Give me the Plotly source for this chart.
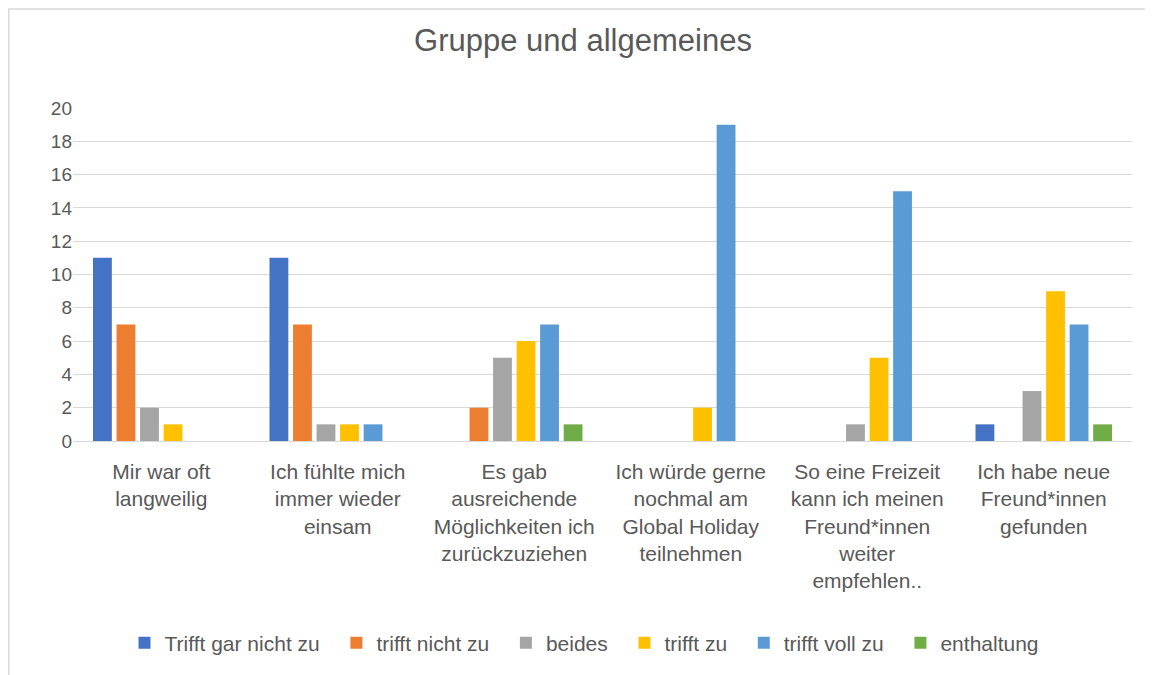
import plotly.graph_objects as go

categories = [
    "Mir war oft<br>langweilig",
    "Ich fühlte mich<br>immer wieder<br>einsam",
    "Es gab<br>ausreichende<br>Möglichkeiten ich<br>zurückzuziehen",
    "Ich würde gerne<br>nochmal am<br>Global Holiday<br>teilnehmen",
    "So eine Freizeit<br>kann ich meinen<br>Freund*innen<br>weiter<br>empfehlen..",
    "Ich habe neue<br>Freund*innen<br>gefunden",
]
series_names = ["Trifft gar nicht zu", "trifft nicht zu", "beides", "trifft zu", "trifft voll zu", "enthaltung"]
trifft_gar_nicht_zu = [11, 11, 0, 0, 0, 1]
trifft_nicht_zu = [7, 7, 2, 0, 0, 0]
beides = [2, 1, 5, 0, 1, 3]
trifft_zu = [1, 1, 6, 2, 5, 9]
trifft_voll_zu = [0, 1, 7, 19, 15, 7]
enthaltung = [0, 0, 1, 0, 0, 1]
colors = ["#4472C4", "#ED7D31", "#A5A5A5", "#FFC000", "#5B9BD5", "#70AD47"]
y_ticks = [0, 2, 4, 6, 8, 10, 12, 14, 16, 18, 20]

series = [trifft_gar_nicht_zu, trifft_nicht_zu, beides, trifft_zu, trifft_voll_zu, enthaltung]

FONT = "Liberation Sans"
TXT = "#595959"
PAD = "\u00a0\u00a0"

fig = go.Figure()
for name, vals, c in zip(series_names, series, colors):
    fig.add_trace(go.Bar(
        x=categories,
        y=[v if v != 0 else None for v in vals],
        name=name + PAD,
        marker=dict(color=c, line=dict(width=0)),
    ))

# page body has an 8px offset; positions below are in figure coordinates
W, H = 1145, 667
L, T = 65, 100
pw, ph = 1059, 333
R, B = W - L - pw, H - T - ph

fig.update_layout(
    width=W, height=H,
    margin=dict(l=L, r=R, t=T, b=B),
    paper_bgcolor="white", plot_bgcolor="white",
    barmode="group", bargap=0.2, bargroupgap=0.2,
    title=dict(text="Gruppe und allgemeines", x=(583 - 8 - L) / pw, xref="paper", xanchor="center",
               y=1 - 32 / H, yanchor="middle",
               font=dict(family=FONT, size=31, color=TXT)),
    font=dict(family=FONT, color=TXT, size=20),
    xaxis=dict(showgrid=False, showline=False, ticks="", tickangle=0,
               ticklabelstandoff=16,
               tickfont=dict(size=21, color=TXT)),
    yaxis=dict(range=[0, 20], tickvals=y_ticks, showgrid=True, gridcolor="#D9D9D9",
               gridwidth=1, zeroline=True, zerolinecolor="#D9D9D9", zerolinewidth=1,
               showline=False, ticks="", tickfont=dict(size=19, color=TXT)),
    legend=dict(orientation="h", x=(590 - 8 - L) / pw, xanchor="center",
                y=-(635 - (T + ph)) / ph, yanchor="middle",
                font=dict(size=21, color=TXT), traceorder="normal",
                itemwidth=30),
    showlegend=True,
)

fig.add_shape(type="rect", xref="paper", yref="paper",
              x0=(0.75 - L) / pw, x1=(W + 5 - L) / pw,
              y0=-(H + 5 - T - ph) / ph, y1=1 + (T - 1) / ph,
              line=dict(color="#D9D9D9", width=1.5), fillcolor="rgba(0,0,0,0)", layer="below")

fig.write_html("out.html")
